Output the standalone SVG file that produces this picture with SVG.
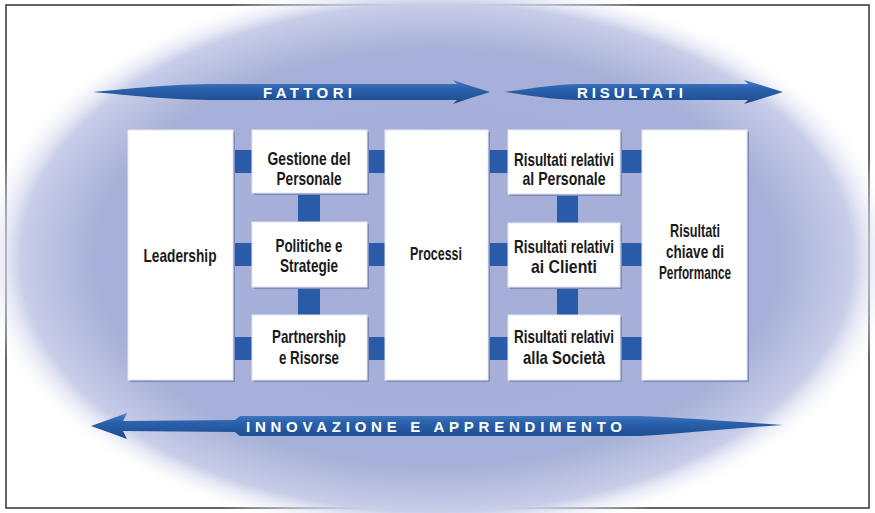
<svg xmlns="http://www.w3.org/2000/svg" width="875" height="513" viewBox="0 0 875 513">
  <defs>
    <radialGradient id="halo" cx="0.5" cy="0.5" r="0.5">
      <stop offset="0" stop-color="#a5aed7"/>
      <stop offset="0.74" stop-color="#a7b0d8"/>
      <stop offset="0.9" stop-color="#c8cde8"/>
      <stop offset="1" stop-color="#ffffff" stop-opacity="0"/>
    </radialGradient>
    <linearGradient id="shaft" x1="0" y1="0" x2="0" y2="1">
      <stop offset="0" stop-color="#4a7fc4"/>
      <stop offset="0.35" stop-color="#2b62ad"/>
      <stop offset="1" stop-color="#1c4a8e"/>
    </linearGradient>
    <style>
      .frame { fill: #ffffff; stroke: #333333; stroke-width: 1.5; }
      .box { fill: #ffffff; stroke: #e3e7f3; stroke-width: 1; }
      .shadow { fill: #7f8aba; }
      .link { fill: #2a5ba8; }
      .arrow { fill: url(#shaft); }
      .label { font-family: "Liberation Sans", Arial, sans-serif; font-weight: bold; font-size: 19px; fill: #1a1a1a; text-anchor: middle; }
      .band { font-family: "Liberation Sans", Arial, sans-serif; font-weight: bold; font-size: 15px; fill: #ffffff; }
    </style>
  </defs>

  <!-- page frame and blue halo -->
  <rect class="frame" x="6" y="5" width="863" height="503"/>
  <ellipse cx="437" cy="258" rx="462" ry="282" fill="url(#halo)"/>

  <!-- banner arrows -->
  <g id="arrow-fattori">
    <path class="arrow" d="M93,92 C120,90 160,84.5 210,84 L457,84 L453,80 Q470,86 490,92 Q470,98 453,104 L457,100 L210,100 C160,99.5 120,94 93,92 Z"/>
    <text class="band" x="263" y="97.5" textLength="89" lengthAdjust="spacing">FATTORI</text>
  </g>
  <g id="arrow-risultati">
    <path class="arrow" d="M505,92 C525,89.5 550,84.5 580,84 L748,84 L744,80 Q764,86 783,92 Q764,98 744,104 L748,100 L580,100 C550,99.5 525,94.5 505,92 Z"/>
    <text class="band" x="577" y="97.5" textLength="106" lengthAdjust="spacing">RISULTATI</text>
  </g>
  <g id="arrow-innovazione">
    <path class="arrow" d="M91,426 Q108,420 127,413 L123,421 L235,420 L240,416 L640,416 C690,418 730,421.5 783,425 C730,428.5 690,433 640,436 L240,436 L235,432 L123,431 L127,439 Q108,432 91,426 Z"/>
    <text class="band" x="246" y="431.5" textLength="376" lengthAdjust="spacing">INNOVAZIONE E APPRENDIMENTO</text>
  </g>

  <!-- connectors -->
  <g id="connectors">
    <rect class="link" x="233" y="150" width="19" height="23"/>
    <rect class="link" x="233" y="243" width="19" height="23"/>
    <rect class="link" x="233" y="337" width="19" height="23"/>
    <rect class="link" x="367" y="150" width="18" height="23"/>
    <rect class="link" x="367" y="243" width="18" height="23"/>
    <rect class="link" x="367" y="337" width="18" height="23"/>
    <rect class="link" x="489" y="150" width="19" height="23"/>
    <rect class="link" x="489" y="243" width="19" height="23"/>
    <rect class="link" x="489" y="337" width="19" height="23"/>
    <rect class="link" x="621" y="150" width="21" height="23"/>
    <rect class="link" x="621" y="243" width="21" height="23"/>
    <rect class="link" x="621" y="337" width="21" height="23"/>
    <rect class="link" x="298" y="193" width="22" height="30"/>
    <rect class="link" x="298" y="287" width="22" height="29"/>
    <rect class="link" x="557" y="194" width="21" height="30"/>
    <rect class="link" x="557" y="287" width="21" height="29"/>
  </g>

  <!-- nodes -->
  <g id="leadership">
    <rect class="shadow" x="130" y="132" width="105" height="250"/>
    <rect class="box" x="128" y="130" width="105" height="250"/>
    <text class="label" x="180" y="262" textLength="73" lengthAdjust="spacingAndGlyphs">Leadership</text>
  </g>
  <g id="gestione-personale">
    <rect class="shadow" x="254" y="132" width="115" height="63"/>
    <rect class="box" x="252" y="130" width="115" height="63"/>
    <text class="label" x="309" y="165" textLength="83" lengthAdjust="spacingAndGlyphs">Gestione del</text>
    <text class="label" x="309" y="185" textLength="65" lengthAdjust="spacingAndGlyphs">Personale</text>
  </g>
  <g id="politiche-strategie">
    <rect class="shadow" x="254" y="224" width="115" height="65"/>
    <rect class="box" x="252" y="222" width="115" height="65"/>
    <text class="label" x="309" y="252" textLength="67" lengthAdjust="spacingAndGlyphs">Politiche e</text>
    <text class="label" x="309" y="272" textLength="58" lengthAdjust="spacingAndGlyphs">Strategie</text>
  </g>
  <g id="partnership-risorse">
    <rect class="shadow" x="254" y="317" width="115" height="65"/>
    <rect class="box" x="252" y="315" width="115" height="65"/>
    <text class="label" x="309" y="343" textLength="74" lengthAdjust="spacingAndGlyphs">Partnership</text>
    <text class="label" x="309" y="364" textLength="60" lengthAdjust="spacingAndGlyphs">e Risorse</text>
  </g>
  <g id="processi">
    <rect class="shadow" x="387" y="132" width="103" height="250"/>
    <rect class="box" x="385" y="130" width="103" height="250"/>
    <text class="label" x="436" y="260" textLength="52" lengthAdjust="spacingAndGlyphs">Processi</text>
  </g>
  <g id="risultati-personale">
    <rect class="shadow" x="510" y="132" width="112" height="64"/>
    <rect class="box" x="508" y="130" width="112" height="64"/>
    <text class="label" x="564" y="166" textLength="100" lengthAdjust="spacingAndGlyphs">Risultati relativi</text>
    <text class="label" x="564" y="185" textLength="83" lengthAdjust="spacingAndGlyphs">al Personale</text>
  </g>
  <g id="risultati-clienti">
    <rect class="shadow" x="510" y="225" width="112" height="64"/>
    <rect class="box" x="508" y="223" width="112" height="64"/>
    <text class="label" x="564" y="253" textLength="100" lengthAdjust="spacingAndGlyphs">Risultati relativi</text>
    <text class="label" x="564" y="273" textLength="66" lengthAdjust="spacingAndGlyphs">ai Clienti</text>
  </g>
  <g id="risultati-societa">
    <rect class="shadow" x="510" y="317" width="112" height="65"/>
    <rect class="box" x="508" y="315" width="112" height="65"/>
    <text class="label" x="564" y="343" textLength="100" lengthAdjust="spacingAndGlyphs">Risultati relativi</text>
    <text class="label" x="564" y="364" textLength="82" lengthAdjust="spacingAndGlyphs">alla Società</text>
  </g>
  <g id="risultati-chiave">
    <rect class="shadow" x="644" y="132" width="105" height="250"/>
    <rect class="box" x="642" y="130" width="105" height="250"/>
    <text class="label" x="695" y="237" textLength="50" lengthAdjust="spacingAndGlyphs">Risultati</text>
    <text class="label" x="695" y="258" textLength="58" lengthAdjust="spacingAndGlyphs">chiave di</text>
    <text class="label" x="695" y="279" textLength="72" lengthAdjust="spacingAndGlyphs">Performance</text>
  </g>
</svg>
